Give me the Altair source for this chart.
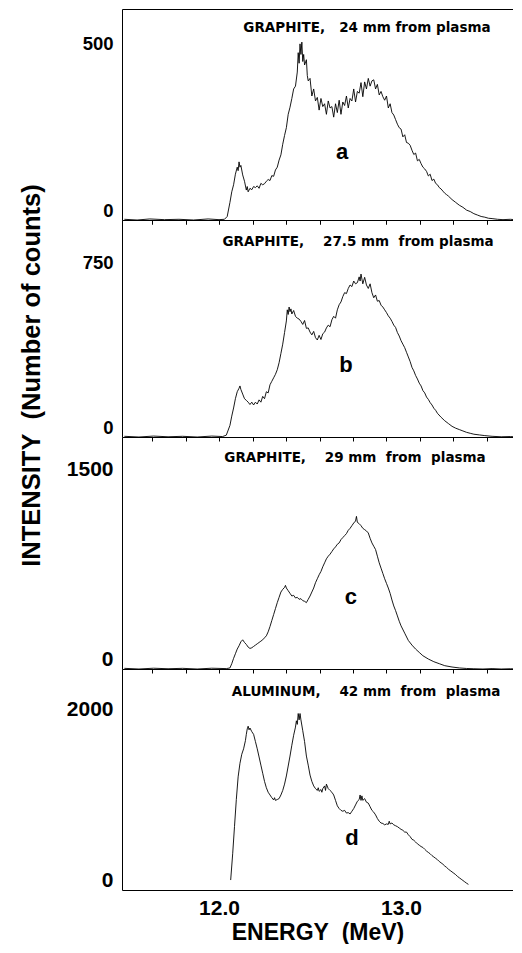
import altair as alt
import pandas as pd

# ---------------- data ----------------
E_a = [11.48, 11.55, 11.62, 11.70, 11.78, 11.86, 11.94, 12.00, 12.03, 12.045,
       12.06, 12.07, 12.08, 12.09, 12.10, 12.105, 12.11, 12.115, 12.12, 12.13, 12.14, 12.15, 12.155, 12.16,
       12.17, 12.18, 12.19, 12.20, 12.21, 12.22, 12.23, 12.24, 12.25, 12.26, 12.27, 12.28, 12.29, 12.30,
       12.31, 12.32, 12.33, 12.34, 12.35, 12.36, 12.37, 12.38, 12.39, 12.40, 12.41, 12.42, 12.43, 12.435,
       12.44, 12.445, 12.45, 12.455, 12.46, 12.465, 12.47, 12.48, 12.485, 12.49, 12.50, 12.51, 12.52, 12.53,
       12.54, 12.55, 12.56, 12.57, 12.58, 12.59, 12.60, 12.61, 12.62, 12.63, 12.64, 12.65, 12.66, 12.67,
       12.68, 12.69, 12.70, 12.71, 12.72, 12.73, 12.74, 12.75, 12.76, 12.77, 12.78, 12.79, 12.80, 12.81,
       12.82, 12.83, 12.84, 12.85, 12.86, 12.87, 12.88, 12.89, 12.90, 12.91, 12.92, 12.93, 12.94, 12.95,
       12.96, 12.97, 12.98, 12.99, 13.00, 13.01, 13.02, 13.03, 13.04, 13.05, 13.06, 13.07, 13.08, 13.09,
       13.10, 13.11, 13.12, 13.13, 13.14, 13.15, 13.16, 13.17, 13.18, 13.19, 13.20, 13.21, 13.22, 13.23,
       13.24, 13.25, 13.26, 13.28, 13.30, 13.32, 13.34, 13.36, 13.38, 13.40, 13.42, 13.44, 13.46, 13.48,
       13.50, 13.53, 13.56, 13.60, 13.645]
C_a = [2, 0, 3, 1, 2, 0, 3, 1, 2, 10,
       50, 80, 100, 130, 150, 140, 165, 150, 155, 128, 110, 85, 95, 80,
       90, 86, 95, 92, 97, 90, 104, 100, 103, 110, 115, 112, 126, 124,
       142, 150, 170, 185, 215, 240, 262, 300, 320, 345, 372, 380, 420, 475,
       445, 500, 470, 505, 450, 470, 440, 455, 410, 395, 402, 352, 372, 338,
       348, 312, 345, 322, 330, 300, 338, 318, 322, 292, 330, 305, 340, 300,
       335, 325, 352, 318, 345, 338, 372, 335, 365, 360, 390, 350, 392, 372,
       402, 380, 395, 398, 372, 385, 355, 365, 350, 340, 352, 318, 330, 305,
       298, 285, 272, 262, 258, 236, 242, 220, 218, 212, 198, 186, 190, 168,
       172, 160, 150, 145, 138, 125, 130, 112, 116, 104, 100, 92, 88, 82,
       76, 72, 68, 58, 50, 42, 36, 28, 24, 18, 14, 10, 8, 5,
       4, 2, 1, 2, 0]

E_b = [11.48, 11.56, 11.64, 11.72, 11.80, 11.88, 11.96, 12.02, 12.04,
       12.06, 12.07, 12.08, 12.09, 12.10, 12.11, 12.115, 12.12, 12.13, 12.14, 12.15, 12.16, 12.17, 12.18,
       12.19, 12.20, 12.21, 12.22, 12.23, 12.24, 12.25, 12.26, 12.27, 12.28, 12.29, 12.30, 12.31, 12.32,
       12.33, 12.34, 12.35, 12.36, 12.37, 12.375, 12.38, 12.385, 12.39, 12.395, 12.40, 12.41, 12.42, 12.43,
       12.44, 12.45, 12.46, 12.47, 12.48, 12.49, 12.50, 12.51, 12.52, 12.53, 12.54, 12.55, 12.56, 12.57,
       12.58, 12.59, 12.60, 12.61, 12.62, 12.63, 12.64, 12.65, 12.66, 12.67, 12.68, 12.69, 12.70, 12.71,
       12.72, 12.73, 12.74, 12.75, 12.76, 12.77, 12.775, 12.78, 12.79, 12.80, 12.81, 12.82, 12.83, 12.84,
       12.85, 12.86, 12.87, 12.88, 12.89, 12.90, 12.91, 12.92, 12.93, 12.94, 12.95, 12.96, 12.97, 12.98,
       12.99, 13.00, 13.01, 13.02, 13.03, 13.04, 13.05, 13.06, 13.07, 13.08, 13.09, 13.10, 13.11, 13.12,
       13.13, 13.14, 13.15, 13.16, 13.17, 13.18, 13.19, 13.20, 13.22, 13.24, 13.26, 13.28, 13.30, 13.32,
       13.34, 13.36, 13.38, 13.40, 13.43, 13.46, 13.50, 13.55, 13.60, 13.645]
C_b = [3, 0, 4, 1, 3, 0, 4, 2, 8,
       50, 90, 125, 165, 195, 210, 220, 205, 185, 165, 158, 150, 140, 150,
       138, 150, 142, 160, 150, 175, 165, 195, 190, 225, 240, 255, 270, 290,
       320, 360, 400, 450, 500, 548, 528, 560, 540, 552, 530, 545, 520, 512,
       508, 498, 485, 502, 468, 470, 452, 440, 455, 428, 418, 438, 420, 445,
       452, 470, 482, 475, 505, 520, 512, 548, 570, 582, 605, 622, 618, 640,
       655, 648, 672, 660, 665, 690, 672, 702, 660, 688, 655, 640, 660, 622,
       600, 612, 585, 588, 568, 560, 548, 536, 522, 512, 498, 482, 472, 450,
       435, 415, 400, 385, 365, 345, 325, 300, 285, 265, 250, 232, 220, 200,
       190, 172, 162, 148, 138, 124, 115, 102, 85, 70, 58, 46, 38, 32,
       26, 20, 16, 12, 9, 6, 3, 1, 2, 0]

E_c = [11.48, 11.56, 11.64, 11.72, 11.80, 11.88, 11.96, 12.04, 12.06,
       12.07, 12.08, 12.09, 12.10, 12.11, 12.12, 12.13, 12.14, 12.15, 12.16, 12.17, 12.18, 12.19, 12.20,
       12.21, 12.22, 12.23, 12.24, 12.25, 12.26, 12.27, 12.28, 12.29, 12.30, 12.31, 12.32, 12.33, 12.34,
       12.35, 12.36, 12.365, 12.37, 12.38, 12.39, 12.40, 12.41, 12.42, 12.43, 12.44, 12.45, 12.46, 12.47,
       12.48, 12.49, 12.50, 12.51, 12.52, 12.53, 12.54, 12.55, 12.56, 12.57, 12.58, 12.59, 12.60, 12.61,
       12.62, 12.63, 12.64, 12.65, 12.66, 12.67, 12.68, 12.69, 12.70, 12.71, 12.72, 12.73, 12.74, 12.75,
       12.755, 12.76, 12.77, 12.78, 12.79, 12.80, 12.81, 12.82, 12.83, 12.84, 12.85, 12.86, 12.87, 12.88,
       12.89, 12.90, 12.91, 12.92, 12.93, 12.94, 12.95, 12.96, 12.97, 12.98, 12.99, 13.00, 13.02, 13.04,
       13.06, 13.08, 13.10, 13.12, 13.15, 13.18, 13.21, 13.24, 13.28, 13.32, 13.36, 13.40, 13.45, 13.50,
       13.55, 13.60, 13.645]
C_c = [5, 0, 6, 2, 5, 0, 6, 3, 8,
       40, 80, 115, 150, 175, 205, 220, 200, 185, 165, 155, 160, 170, 180,
       190, 200, 210, 220, 235, 250, 280, 320, 365, 410, 455, 500, 540, 580,
       600, 615, 630, 610, 590, 570, 550, 555, 535, 540, 525, 530, 515, 510,
       500, 525, 550, 580, 610, 650, 680, 710, 735, 770, 800, 830, 850, 865,
       885, 905, 920, 940, 950, 975, 990, 1005, 1020, 1045, 1060, 1080, 1100, 1115,
       1150, 1105, 1095, 1080, 1060, 1050, 1040, 1025, 985, 950, 925, 900, 850, 800,
       760, 720, 680, 645, 610, 570, 520, 475, 440, 400, 360, 325, 270, 215,
       180, 150, 125, 100, 75, 55, 40, 25, 15, 8, 4, 2, 0, 3,
       0, 2, 0]

E_d = [12.064, 12.075, 12.085, 12.095, 12.105, 12.115, 12.125, 12.135, 12.145, 12.15, 12.155, 12.16,
       12.165, 12.17, 12.18, 12.19, 12.20, 12.21, 12.22, 12.23, 12.24, 12.25, 12.26, 12.27, 12.28,
       12.29, 12.30, 12.305, 12.31, 12.32, 12.33, 12.34, 12.35, 12.36, 12.37, 12.38, 12.39, 12.40,
       12.41, 12.42, 12.425, 12.43, 12.435, 12.44, 12.445, 12.45, 12.46, 12.47, 12.48, 12.49, 12.50,
       12.51, 12.52, 12.53, 12.54, 12.545, 12.55, 12.56, 12.565, 12.57, 12.58, 12.585, 12.59, 12.60,
       12.61, 12.62, 12.63, 12.64, 12.65, 12.66, 12.67, 12.68, 12.69, 12.70, 12.71, 12.72, 12.73,
       12.74, 12.75, 12.76, 12.77, 12.775, 12.78, 12.785, 12.79, 12.80, 12.81, 12.82, 12.83, 12.84,
       12.85, 12.86, 12.87, 12.88, 12.89, 12.90, 12.91, 12.92, 12.93, 12.935, 12.94, 12.95, 12.96,
       12.97, 12.98, 12.99, 13.00, 13.01, 13.02, 13.03, 13.04, 13.05, 13.06, 13.07, 13.08, 13.09,
       13.10, 13.11, 13.12, 13.13, 13.14, 13.15, 13.16, 13.17, 13.18, 13.19, 13.20, 13.21, 13.22,
       13.23, 13.24, 13.25, 13.26, 13.27, 13.28, 13.29, 13.30, 13.31, 13.32, 13.33, 13.34, 13.35,
       13.36, 13.37]
C_d = [110, 400, 700, 1000, 1250, 1400, 1500, 1560, 1650, 1720, 1780, 1810,
       1770, 1790, 1750, 1720, 1640, 1560, 1470, 1380, 1290, 1200, 1130, 1080, 1050,
       1020, 995, 1020, 990, 1000, 1010, 1050, 1100, 1170, 1260, 1370, 1480, 1600,
       1710, 1800, 1870, 1830, 1950, 1880, 1950, 1880, 1760, 1640, 1480, 1380, 1270,
       1200, 1150, 1120, 1100, 1130, 1090, 1110, 1080, 1120, 1150, 1100, 1170, 1120,
       1100, 1080, 1050, 990, 930, 900, 880, 870, 880, 850, 855, 840, 870,
       900, 940, 980, 1000, 1050, 990, 1040, 990, 1010, 970, 960, 920, 880,
       860, 830, 790, 760, 740, 735, 720, 730, 725, 760, 730, 740, 720,
       710, 700, 685, 670, 660, 640, 640, 610, 590, 560, 550, 530, 510,
       495, 480, 470, 450, 430, 415, 400, 380, 365, 350, 335, 315, 300,
       285, 265, 250, 230, 215, 200, 185, 170, 150, 135, 120, 105, 90,
       75, 62]

panel_titles = ["GRAPHITE,\u00a0\u00a0 24 mm from plasma",
                "GRAPHITE,\u00a0\u00a0\u00a0 27.5 mm\u00a0 from plasma",
                "GRAPHITE,\u00a0\u00a0\u00a0 29 mm\u00a0 from\u00a0 plasma",
                "ALUMINUM,\u00a0\u00a0\u00a0 42 mm\u00a0 from\u00a0 plasma"]
title_x = [12.813, 12.764, 12.747, 12.808]
title_y = [545, 840, 1590, 2188]
letters = ["a", "b", "c", "d"]
letter_x = [12.676, 12.698, 12.725, 12.731]
letter_y = [193, 310, 543, 575]
# y tick label anchors: the "0" labels sit a little above the baseline in the original
y_label_vals = [[28, 500], [43, 750], [75, 1500], [110, 2000]]
y_top = [599, 935, 1748, 2442]
heights = [211, 217, 232, 221]
x_minor_ticks = [11.632, 11.816, 12.0, 12.184, 12.368, 12.552, 12.736, 12.92, 13.104, 13.288, 13.472]
x_labels = [12.0, 13.0]

# ---------------- chart ----------------
NUM_FONT = "Liberation Sans"
TXT_FONT = "DejaVu Sans"
xscale = alt.Scale(domain=[11.467, 13.615], nice=False, zero=False)
PLOT_W = 391


def panel(i, E, C, last=False):
    df = pd.DataFrame({"E": E, "C": C})
    yscale = alt.Scale(domain=[0, y_top[i]], nice=False, zero=True)
    ylab_fs = 18.5 if i < 2 else 21
    yaxis_kw = dict(
        orient="left", values=y_label_vals[i], ticks=False, grid=False, domainColor="black",
        labelFont=NUM_FONT, labelFontSize=ylab_fs, labelFontWeight="bold", labelColor="black",
        labelPadding=9, format="d",
        labelExpr="datum.value < 200 ? '0' : datum.label",
    )
    if i == 1:
        yaxis_kw.update(
            title="INTENSITY\u00a0\u00a0(Number of counts)", titleAngle=270, titleX=-91, titleY=155,
            titleAlign="center", titleBaseline="middle", titleFont=NUM_FONT, titleFontSize=25.5,
            titleFontWeight="bold", titleColor="black",
        )
    else:
        yaxis_kw.update(title=None)
    yaxis = alt.Axis(**yaxis_kw)

    if last:
        xaxis = alt.Axis(orient="bottom", values=x_labels, format=".1f", ticks=False, grid=False,
                         domainColor="black", labelFont=NUM_FONT, labelFontSize=21, labelFontWeight="bold",
                         labelColor="black", labelPadding=7, title="ENERGY\u00a0\u00a0(MeV)",
                         titleFont=NUM_FONT, titleFontSize=23, titleFontWeight="bold", titleColor="black",
                         titlePadding=3)
    else:
        xaxis = alt.Axis(orient="bottom", values=x_minor_ticks, labels=False, ticks=True, tickSize=4,
                         tickColor="black", grid=False, domainColor="black", title=None)

    line = alt.Chart(df).mark_line(color="black", strokeWidth=0.9, clip=True).encode(
        x=alt.X("E:Q", scale=xscale, axis=xaxis),
        y=alt.Y("C:Q", scale=yscale, axis=yaxis),
    )

    tdf = pd.DataFrame({"x": [title_x[i]], "y": [title_y[i]], "t": [panel_titles[i]]})
    ttl_xaxis = (alt.Axis(orient="top", labels=False, ticks=False, grid=False, domainColor="black", title=None)
                 if i == 0 else xaxis)
    ttl = alt.Chart(tdf).mark_text(font=TXT_FONT, fontSize=13.5, fontWeight="bold", color="black").encode(
        x=alt.X("x:Q", scale=xscale, axis=ttl_xaxis),
        y=alt.Y("y:Q", scale=yscale, axis=yaxis),
        text="t:N",
    )
    ldf = pd.DataFrame({"x": [letter_x[i]], "y": [letter_y[i]], "t": [letters[i]]})
    let = alt.Chart(ldf).mark_text(font=NUM_FONT, fontSize=22, fontWeight="bold", color="black").encode(
        x=alt.X("x:Q", scale=xscale, axis=xaxis),
        y=alt.Y("y:Q", scale=yscale, axis=yaxis),
        text="t:N",
    )
    return alt.layer(line, ttl, let).properties(width=PLOT_W, height=heights[i])


pa = panel(0, E_a, C_a)
pb = panel(1, E_b, C_b)
pc = panel(2, E_c, C_c)
pd_ = panel(3, E_d, C_d, last=True)

chart = alt.vconcat(pa, pb, pc, pd_, spacing=0, bounds="flush").properties(
    padding={"left": 10, "top": 1, "right": 0, "bottom": 0}, background="white"
).configure_view(stroke=None)

chart.save("out.html", embed_options={"renderer": "svg", "actions": False})
